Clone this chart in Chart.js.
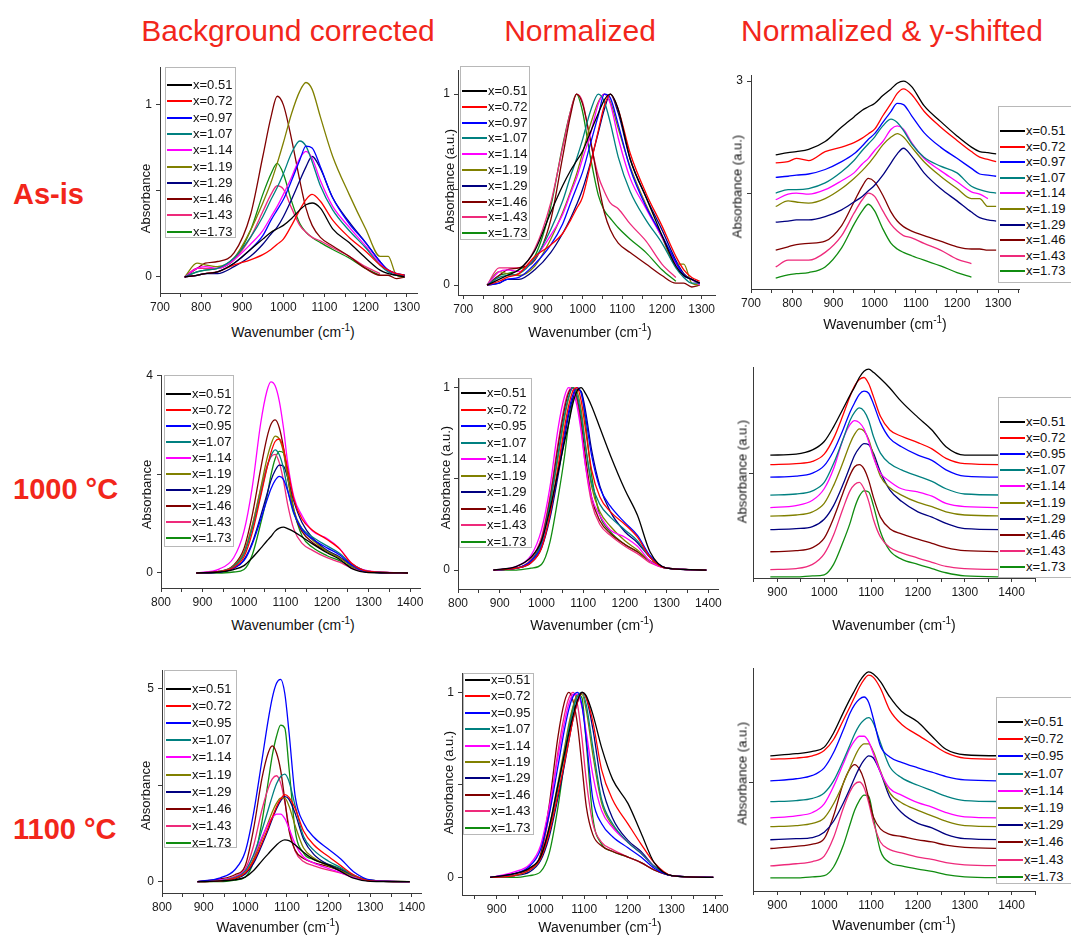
<!DOCTYPE html>
<html><head><meta charset="utf-8">
<script src="https://cdn.jsdelivr.net/npm/chart.js@4.4.1/dist/chart.umd.min.js"></script>
<style>
body{margin:0;background:#fff;}
#page{position:relative;width:1071px;height:940px;overflow:hidden;font-family:"Liberation Sans",Arial,sans-serif;background:#fff;}
.t{position:absolute;color:#f2261b;font-size:30px;line-height:30px;white-space:nowrap;transform:translateX(-50%);}
.r{position:absolute;color:#f2261b;font-size:29px;line-height:29px;font-weight:bold;white-space:nowrap;}
.xt{position:absolute;width:240px;height:16px;text-align:center;font-size:14px;line-height:16px;color:#111;white-space:nowrap;}
.xt sup{font-size:10px;line-height:0;vertical-align:6px;}
.yt{position:absolute;width:200px;height:15px;text-align:center;font-size:13px;line-height:15px;color:#111;transform:rotate(-90deg);white-space:nowrap;}
canvas{position:absolute;}
.lg{position:absolute;background:#fff;border:1px solid #b8b8b8;box-sizing:border-box;}
.lr{position:absolute;font-size:13px;line-height:14px;color:#111;white-space:nowrap;}
.ll{position:absolute;height:2px;width:25px;left:1px;}
</style></head>
<body>
<div id="page">
<div class="t" style="left:288px;top:16px">Background corrected</div>
<div class="t" style="left:580px;top:16px">Normalized</div>
<div class="t" style="left:892px;top:16px">Normalized &amp; y-shifted</div>
<div class="r" style="left:13px;top:180px">As-is</div>
<div class="r" style="left:13px;top:475px">1000 °C</div>
<div class="r" style="left:13px;top:815px">1100 °C</div>
</div>
<script>
// ---------- categories / labels ----------
const colors = ['#000000','#ff0000','#0000ff','#008080','#ff00ff','#808000','#000080','#800000','#ee2a7b','#108c10'];
const labelsAsIs = ['x=0.51','x=0.72','x=0.97','x=1.07','x=1.14','x=1.19','x=1.29','x=1.46','x=1.43','x=1.73'];
const labels1000 = ['x=0.51','x=0.72','x=0.95','x=1.07','x=1.14','x=1.19','x=1.29','x=1.46','x=1.43','x=1.73'];
const labels1100 = ['x=0.51','x=0.72','x=0.95','x=1.07','x=1.14','x=1.19','x=1.29','x=1.46','x=1.43','x=1.73'];

// ---------- wavenumber grids (cm-1) ----------
const wnAsIs = [760,790,810,840,880,920,950,970,985,1000,1020,1040,1055,1070,1090,1120,1160,1200,1235,1255,1275,1295];
const wnAnnealed = [885,940,975,1000,1020,1040,1055,1065,1075,1085,1095,1105,1120,1140,1165,1200,1230,1260,1300,1395];

// ---------- tick labels ----------
const xMajorAsIs = [700,800,900,1000,1100,1200,1300];
const xMinorAsIs = [750,850,950,1050,1150,1250,1350];
const xMajorAnn = [800,900,1000,1100,1200,1300,1400];
const xMinorAnn = [850,950,1050,1150,1250,1350,1450];

// ---------- As-is ----------
const asIsBackground = [
 [0,0.01,0.02,0.03,0.08,0.16,0.22,0.26,0.28,0.30,0.34,0.39,0.42,0.43,0.40,0.28,0.20,0.11,0.04,0.02,0.01,0],
 [0,0.01,0.02,0.03,0.07,0.10,0.13,0.16,0.19,0.22,0.30,0.39,0.45,0.48,0.44,0.33,0.23,0.15,0.07,0.04,0.02,0.01],
 [0,0.01,0.02,0.03,0.08,0.16,0.24,0.33,0.39,0.45,0.56,0.68,0.76,0.75,0.64,0.46,0.31,0.20,0.09,0.04,0.02,0.01],
 [0,0.03,0.04,0.05,0.11,0.23,0.35,0.45,0.52,0.60,0.72,0.79,0.76,0.67,0.53,0.39,0.27,0.17,0.07,0.03,0.01,0.01],
 [0,0.05,0.06,0.05,0.10,0.19,0.27,0.35,0.41,0.48,0.58,0.69,0.73,0.69,0.56,0.41,0.29,0.18,0.08,0.04,0.02,0],
 [0,0.08,0.07,0.06,0.11,0.27,0.43,0.55,0.66,0.78,0.95,1.08,1.13,1.09,0.93,0.70,0.48,0.28,0.12,0.12,0.01,0],
 [0,0.01,0.02,0.02,0.06,0.12,0.19,0.25,0.29,0.35,0.45,0.56,0.64,0.70,0.63,0.46,0.32,0.20,0.09,0.04,0.02,0.01],
 [0,0.05,0.08,0.09,0.14,0.36,0.70,0.93,1.05,1.00,0.80,0.56,0.40,0.30,0.23,0.18,0.12,0.05,0.01,0.01,-0.01,0],
 [0,0.05,0.05,0.05,0.10,0.23,0.38,0.48,0.53,0.51,0.40,0.30,0.26,0.23,0.21,0.17,0.12,0.06,0.02,null,null,null],
 [0,0.03,0.04,0.05,0.10,0.27,0.48,0.60,0.66,0.60,0.44,0.31,0.26,0.23,0.20,0.16,0.11,0.05,0.01,null,null,null]
];
const asIsNormalized = [
 [0,0.03,0.05,0.08,0.18,0.38,0.52,0.60,0.65,0.70,0.80,0.90,0.97,1.00,0.92,0.66,0.46,0.26,0.10,0.05,0.03,0.01],
 [0,0.02,0.04,0.06,0.15,0.21,0.27,0.34,0.40,0.46,0.63,0.81,0.94,1.00,0.92,0.69,0.48,0.31,0.15,0.08,0.04,0.02],
 [0,0.01,0.03,0.04,0.11,0.21,0.32,0.43,0.51,0.59,0.74,0.89,1.00,0.98,0.84,0.61,0.41,0.26,0.12,0.05,0.03,0.01],
 [0,0.04,0.05,0.06,0.14,0.29,0.44,0.57,0.66,0.76,0.91,1.00,0.96,0.85,0.67,0.49,0.34,0.22,0.09,0.04,0.01,0.01],
 [0,0.07,0.08,0.07,0.14,0.26,0.37,0.48,0.56,0.66,0.79,0.95,1.00,0.95,0.77,0.56,0.40,0.25,0.11,0.05,0.03,0],
 [0,0.07,0.06,0.05,0.10,0.24,0.38,0.49,0.58,0.69,0.84,0.96,1.00,0.96,0.82,0.62,0.42,0.25,0.11,0.11,0.01,0],
 [0,0.01,0.03,0.03,0.08,0.17,0.27,0.35,0.42,0.50,0.64,0.80,0.92,1.00,0.90,0.66,0.46,0.29,0.13,0.06,0.03,0.01],
 [0,0.05,0.08,0.09,0.13,0.34,0.67,0.89,1.00,0.95,0.76,0.53,0.38,0.29,0.22,0.17,0.11,0.05,0.01,0.01,-0.01,0],
 [0,0.09,0.09,0.09,0.19,0.43,0.72,0.91,1.00,0.96,0.75,0.57,0.49,0.43,0.40,0.32,0.23,0.11,0.04,null,null,null],
 [0,0.05,0.06,0.08,0.15,0.41,0.73,0.91,1.00,0.91,0.67,0.47,0.39,0.35,0.30,0.24,0.17,0.08,0.02,null,null,null]
];
const asIsShifted = [
 [2.34,2.36,2.37,2.39,2.46,2.59,2.68,2.74,2.77,2.80,2.87,2.93,2.98,3.00,2.95,2.78,2.64,2.51,2.41,2.37,2.36,2.35],
 [2.27,2.28,2.31,2.29,2.37,2.41,2.45,2.49,2.53,2.57,2.69,2.80,2.89,2.93,2.88,2.73,2.59,2.47,2.37,2.32,2.30,2.28],
 [2.14,2.15,2.16,2.17,2.21,2.28,2.35,2.42,2.48,2.53,2.63,2.73,2.80,2.79,2.69,2.54,2.41,2.31,2.22,2.17,2.16,2.15],
 [2.00,2.03,2.03,2.04,2.09,2.19,2.29,2.38,2.44,2.50,2.60,2.66,2.63,2.56,2.44,2.32,2.24,2.18,2.06,2.03,2.01,2.00],
 [1.94,1.99,2.00,1.99,2.03,2.11,2.18,2.26,2.31,2.38,2.46,2.57,2.60,2.57,2.45,2.31,2.20,2.10,2.01,1.99,1.95,null],
 [1.88,1.93,1.92,1.91,1.95,2.04,2.13,2.20,2.26,2.33,2.43,2.50,2.53,2.50,2.41,2.28,2.15,2.04,1.95,1.95,1.88,1.88],
 [1.74,1.75,1.76,1.76,1.79,1.85,1.92,1.97,2.02,2.07,2.16,2.27,2.35,2.40,2.33,2.18,2.04,1.93,1.83,1.78,1.76,1.75],
 [1.49,1.52,1.54,1.55,1.57,1.71,1.92,2.06,2.13,2.10,1.98,1.83,1.75,1.70,1.66,1.62,1.57,1.52,1.50,1.50,1.49,1.49],
 [1.34,1.40,1.40,1.40,1.47,1.62,1.82,1.94,2.00,1.97,1.84,1.72,1.66,1.62,1.60,1.55,1.49,1.41,1.37,null,null,null],
 [1.24,1.27,1.28,1.29,1.34,1.51,1.72,1.84,1.90,1.84,1.68,1.55,1.50,1.47,1.44,1.40,1.35,1.29,1.25,null,null,null]
];

// ---------- 1000 °C ----------
const bg1000 = [
 [0,0.02,0.07,0.15,0.31,0.50,0.65,0.74,0.85,0.91,0.93,0.90,0.84,0.73,0.59,0.41,0.28,0.09,0.01,0],
 [0,0.03,0.11,0.33,0.82,1.55,2.12,2.45,2.67,2.72,2.53,2.12,1.50,1.09,0.87,0.68,0.49,0.19,0.03,0],
 [0,0.02,0.10,0.25,0.59,1.08,1.47,1.71,1.88,1.96,1.90,1.67,1.23,0.88,0.69,0.51,0.37,0.16,0.02,0],
 [0,0.03,0.13,0.38,0.90,1.60,2.13,2.38,2.50,2.40,2.13,1.70,1.20,0.90,0.73,0.55,0.40,0.18,0.03,0],
 [0,0.08,0.31,0.85,1.75,3.03,3.69,3.88,3.80,3.49,2.95,2.25,1.55,1.16,0.85,0.70,0.50,0.19,0.04,0],
 [0,0.03,0.14,0.42,0.97,1.72,2.31,2.61,2.78,2.72,2.45,1.95,1.28,0.89,0.67,0.44,0.31,0.14,0.03,0],
 [0,0.02,0.09,0.27,0.62,1.15,1.59,1.88,2.08,2.19,2.17,1.94,1.46,1.02,0.71,0.46,0.33,0.15,0.02,0],
 [0,0.03,0.16,0.50,1.18,2.11,2.74,3.02,3.11,2.95,2.55,1.96,1.24,0.84,0.62,0.44,0.31,0.16,0.03,0],
 [0,0.02,0.14,0.43,0.96,1.69,2.17,2.36,2.41,2.24,1.88,1.40,0.89,0.60,0.46,0.31,0.22,0.10,0.02,0],
 [0,0,0.02,0.07,0.37,1.00,1.54,1.99,2.32,2.47,2.44,2.04,1.29,0.75,0.52,0.35,0.25,0.12,0.02,0]
];
const norm1000 = [
 [0,0.02,0.07,0.16,0.33,0.54,0.70,0.80,0.91,0.98,1.00,0.97,0.90,0.78,0.63,0.44,0.30,0.10,0.01,0],
 [0,0.01,0.04,0.12,0.30,0.57,0.78,0.90,0.98,1.00,0.93,0.78,0.55,0.40,0.32,0.25,0.18,0.07,0.01,0],
 [0,0.01,0.05,0.13,0.30,0.55,0.75,0.87,0.96,1.00,0.97,0.85,0.63,0.45,0.35,0.26,0.19,0.08,0.01,0],
 [0,0.01,0.05,0.15,0.36,0.64,0.85,0.95,1.00,0.96,0.85,0.68,0.48,0.36,0.29,0.22,0.16,0.07,0.01,0],
 [0,0.02,0.08,0.22,0.45,0.78,0.95,1.00,0.98,0.90,0.76,0.58,0.40,0.30,0.22,0.18,0.13,0.05,0.01,0],
 [0,0.01,0.05,0.15,0.35,0.62,0.83,0.94,1.00,0.98,0.88,0.70,0.46,0.32,0.24,0.16,0.11,0.05,0.01,0],
 [0,0.01,0.04,0.12,0.28,0.52,0.72,0.85,0.94,0.99,0.98,0.88,0.66,0.46,0.32,0.21,0.15,0.07,0.01,0],
 [0,0.01,0.05,0.16,0.38,0.68,0.88,0.97,1.00,0.95,0.82,0.63,0.40,0.27,0.20,0.14,0.10,0.05,0.01,0],
 [0,0.01,0.06,0.18,0.40,0.70,0.90,0.98,1.00,0.93,0.78,0.58,0.37,0.25,0.19,0.13,0.09,0.04,0.01,0],
 [0,0,0.01,0.03,0.15,0.40,0.62,0.80,0.93,0.99,0.98,0.82,0.52,0.30,0.21,0.14,0.10,0.05,0.01,0]
];
const shift1000 = [
 [1.17,1.18,1.22,1.30,1.44,1.61,1.74,1.82,1.91,1.97,1.99,1.96,1.90,1.81,1.68,1.53,1.41,1.25,1.17,1.17],
 [1.08,1.09,1.11,1.18,1.33,1.55,1.73,1.83,1.89,1.91,1.85,1.73,1.54,1.41,1.35,1.29,1.23,1.14,1.09,1.08],
 [0.96,0.97,1.00,1.07,1.21,1.41,1.58,1.67,1.75,1.78,1.76,1.66,1.48,1.33,1.25,1.17,1.12,1.03,0.97,0.96],
 [0.79,0.80,0.83,0.91,1.09,1.32,1.50,1.58,1.62,1.59,1.50,1.35,1.19,1.09,1.03,0.97,0.92,0.85,0.80,0.79],
 [0.67,0.69,0.74,0.85,1.04,1.32,1.46,1.50,1.48,1.42,1.30,1.15,1.00,0.92,0.85,0.82,0.78,0.71,0.68,0.67],
 [0.59,0.60,0.63,0.71,0.88,1.10,1.28,1.37,1.42,1.40,1.32,1.17,0.97,0.86,0.79,0.72,0.68,0.63,0.60,0.59],
 [0.46,0.47,0.49,0.56,0.69,0.89,1.06,1.17,1.24,1.28,1.27,1.19,1.01,0.84,0.73,0.63,0.58,0.52,0.47,0.46],
 [0.25,0.26,0.29,0.38,0.57,0.81,0.98,1.06,1.08,1.04,0.93,0.77,0.58,0.47,0.42,0.37,0.33,0.29,0.26,0.25],
 [0.08,0.09,0.13,0.23,0.41,0.66,0.83,0.89,0.91,0.85,0.73,0.56,0.39,0.29,0.24,0.19,0.15,0.11,0.09,0.08],
 [0.01,0.01,0.02,0.03,0.13,0.34,0.52,0.67,0.78,0.83,0.82,0.69,0.44,0.26,0.18,0.13,0.09,0.05,0.02,0.01]
];

// ---------- 1100 °C ----------
const bg1100 = [
 [0,0.02,0.05,0.12,0.29,0.54,0.72,0.84,0.95,1.04,1.08,1.06,0.95,0.76,0.57,0.43,0.26,0.09,0.01,0],
 [0,0.02,0.09,0.23,0.54,1.01,1.40,1.67,1.94,2.14,2.25,2.18,1.89,1.31,0.95,0.65,0.41,0.18,0.02,0],
 [0,0.10,0.31,0.78,1.78,3.14,4.18,4.76,5.13,5.23,4.86,3.87,2.20,1.52,1.15,0.84,0.58,0.26,0.05,0],
 [0,0.03,0.11,0.28,0.70,1.33,1.86,2.22,2.53,2.72,2.78,2.59,1.95,1.17,0.81,0.53,0.36,0.17,0.03,0],
 [0,0.05,0.12,0.30,0.67,1.15,1.49,1.66,1.75,1.75,1.63,1.38,0.97,0.64,0.48,0.34,0.23,0.11,0.02,0],
 [0,0.02,0.09,0.24,0.59,1.11,1.53,1.81,2.03,2.16,2.16,1.96,1.44,0.87,0.61,0.41,0.28,0.13,0.02,0],
 [0,0.02,0.07,0.20,0.48,0.95,1.34,1.63,1.89,2.09,2.20,2.13,1.76,1.10,0.70,0.44,0.31,0.13,0.02,0],
 [0,0.07,0.18,0.42,1.37,2.67,3.33,3.51,3.33,2.88,2.11,1.33,0.81,0.60,0.49,0.39,0.28,0.14,0.04,0],
 [0,0.05,0.14,0.33,0.93,1.86,2.41,2.66,2.74,2.55,2.06,1.42,0.79,0.52,0.41,0.30,0.22,0.11,0.03,0],
 [0,0,0.04,0.12,0.53,1.55,2.58,3.27,3.76,4.05,3.97,2.94,1.31,0.74,0.57,0.45,0.33,0.16,0.04,0]
];
const norm1100 = [
 [0,0.02,0.05,0.11,0.27,0.50,0.67,0.78,0.88,0.96,1.00,0.98,0.88,0.70,0.53,0.40,0.24,0.08,0.01,0],
 [0,0.01,0.04,0.10,0.24,0.45,0.62,0.74,0.86,0.95,1.00,0.97,0.84,0.58,0.42,0.29,0.18,0.08,0.01,0],
 [0,0.02,0.06,0.15,0.34,0.60,0.80,0.91,0.98,1.00,0.93,0.74,0.42,0.29,0.22,0.16,0.11,0.05,0.01,0],
 [0,0.01,0.04,0.10,0.25,0.48,0.67,0.80,0.91,0.98,1.00,0.93,0.70,0.42,0.29,0.19,0.13,0.06,0.01,0],
 [0,0.03,0.07,0.17,0.38,0.65,0.84,0.94,0.99,0.99,0.92,0.78,0.55,0.36,0.27,0.19,0.13,0.06,0.01,0],
 [0,0.01,0.04,0.11,0.27,0.51,0.70,0.83,0.93,0.99,0.99,0.90,0.66,0.40,0.28,0.19,0.13,0.06,0.01,0],
 [0,0.01,0.03,0.09,0.22,0.43,0.61,0.74,0.86,0.95,1.00,0.97,0.80,0.50,0.32,0.20,0.14,0.06,0.01,0],
 [0,0.02,0.05,0.12,0.39,0.76,0.95,1.00,0.95,0.82,0.60,0.38,0.23,0.17,0.14,0.11,0.08,0.04,0.01,0],
 [0,0.02,0.05,0.12,0.34,0.68,0.88,0.97,1.00,0.93,0.75,0.52,0.29,0.19,0.15,0.11,0.08,0.04,0.01,0],
 [0,0,0.01,0.03,0.13,0.38,0.63,0.80,0.92,0.99,0.97,0.72,0.32,0.18,0.14,0.11,0.08,0.04,0.01,0]
];
const shift1100 = [
 [1.24,1.26,1.28,1.32,1.45,1.63,1.76,1.84,1.92,1.98,2.01,1.99,1.92,1.78,1.65,1.55,1.42,1.30,1.25,1.24],
 [1.21,1.22,1.24,1.29,1.39,1.56,1.69,1.78,1.87,1.94,1.98,1.96,1.86,1.66,1.53,1.43,1.35,1.27,1.22,1.21],
 [1.01,1.03,1.06,1.13,1.27,1.47,1.63,1.71,1.76,1.78,1.73,1.58,1.33,1.23,1.18,1.13,1.09,1.05,1.02,1.01],
 [0.82,0.83,0.85,0.90,1.01,1.19,1.34,1.44,1.52,1.57,1.59,1.54,1.36,1.14,1.04,0.97,0.92,0.87,0.83,0.82],
 [0.67,0.69,0.72,0.80,0.96,1.16,1.31,1.38,1.42,1.42,1.37,1.26,1.09,0.94,0.88,0.81,0.77,0.72,0.68,0.67],
 [0.59,0.60,0.62,0.67,0.80,0.98,1.13,1.23,1.31,1.35,1.35,1.28,1.10,0.90,0.81,0.74,0.69,0.64,0.60,0.59],
 [0.47,0.48,0.49,0.54,0.64,0.80,0.94,1.04,1.13,1.20,1.24,1.22,1.09,0.86,0.72,0.62,0.58,0.52,0.48,0.47],
 [0.39,0.41,0.43,0.48,0.69,0.98,1.12,1.16,1.12,1.02,0.85,0.68,0.57,0.52,0.50,0.47,0.45,0.42,0.40,0.39],
 [0.23,0.25,0.27,0.32,0.49,0.75,0.91,0.98,1.00,0.95,0.81,0.63,0.45,0.38,0.35,0.31,0.29,0.26,0.24,0.23],
 [0.12,0.12,0.13,0.14,0.22,0.41,0.61,0.74,0.83,0.88,0.87,0.67,0.37,0.26,0.23,0.20,0.18,0.15,0.13,0.12]
];

// ---------- layout (positions only) ----------
const xtAsIs = xMajorAsIs.concat(xMinorAsIs), xtAnn = xMajorAnn.concat(xMinorAnn);
const panels = [
 {wn:wnAsIs, s:asIsBackground, lab:labelsAsIs, ax:[160,67,417,293], xr:[700,1325], yr:[-0.093,1.22], xt:xtAsIs, xl:xMajorAsIs, yt:[0,0.5,1], yl:[0,1], lg:[165,67,71,171,85,16.3], xT:[293,332], yT:[145,198,'Absorbance']},
 {wn:wnAsIs, s:asIsNormalized, lab:labelsAsIs, ax:[458,70,715,295], xr:[686.7,1333.5], yr:[-0.052,1.126], xt:xtAsIs, xl:xMajorAsIs, yt:[0,0.5,1], yl:[0,1], lg:[460,66,70,174,91,15.8], xT:[590,332], yT:[449,180,'Absorbance (a.u.)']},
 {wn:wnAsIs, s:asIsShifted, lab:labelsAsIs, ax:[751,75,1019,289], xr:[700,1350.5], yr:[1.143,3.054], xt:xtAsIs, xl:xMajorAsIs, yt:[2,3], yl:[3], lg:[998,106,80,177,131,15.6], xT:[885,324], yT:[737,186,'Absorbance (a.u.)']},
 {wn:wnAnnealed, s:bg1000, lab:labels1000, ax:[161,375,420,588], xr:[800,1424], yr:[-0.305,4.02], xt:xtAnn, xl:xMajorAnn, yt:[0,2,4], yl:[0,4], lg:[164,375,70,172,394,16], xT:[293,625], yT:[146,494,'Absorbance']},
 {wn:wnAnnealed, s:norm1000, lab:labels1000, ax:[458,378,718,589], xr:[800,1423], yr:[-0.104,1.053], xt:xtAnn, xl:xMajorAnn, yt:[0,0.5,1], yl:[0,1], lg:[459,378,73,170,393,16.55], xT:[592,625], yT:[445,477,'Absorbance (a.u.)']},
 {wn:wnAnnealed, s:shift1000, lab:labels1000, ax:[753,367,1035,578], xr:[848,1450], yr:[0,2.01], xt:xtAnn, xl:xMajorAnn, yt:[1], yl:[], lg:[998,397,80,181,422,16.1], xT:[894,625], yT:[742,471,'Absorbance (a.u.)']},
 {wn:wnAnnealed, s:bg1100, lab:labels1100, ax:[162,670,421,893], xr:[800,1422], yr:[-0.292,5.474], xt:xtAnn, xl:xMajorAnn, yt:[0,2.5,5], yl:[0,5], lg:[164,670,73,178,689,17.1], xT:[278,927], yT:[145,795,'Absorbance']},
 {wn:wnAnnealed, s:norm1100, lab:labels1100, ax:[462,673,722,895], xr:[820.7,1415], yr:[-0.095,1.105], xt:xtAnn, xl:xMajorAnn, yt:[0,0.5,1], yl:[0,1], lg:[463,673,71,162,680,16.4], xT:[600,927], yT:[448,782,'Absorbance (a.u.)']},
 {wn:wnAnnealed, s:shift1100, lab:labels1100, ax:[753,668,1035,891], xr:[848,1450], yr:[0,2.046], xt:xtAnn, xl:xMajorAnn, yt:[1], yl:[], lg:[996,697,80,187,722,17.2], xT:[894,925], yT:[742,773,'Absorbance (a.u.)']}
];

Chart.defaults.font.family = "'Liberation Sans', Arial, sans-serif";
const page = document.getElementById('page');
const L = 30, T = 5, R = 16, B = 26;

function makeChart(p){
  const c = document.createElement('canvas');
  const w = p.ax[2]-p.ax[0]+L+R, h = p.ax[3]-p.ax[1]+T+B;
  c.width = w; c.height = h;
  c.style.left = (p.ax[0]-L)+'px'; c.style.top = (p.ax[1]-T)+'px';
  c.style.width = w+'px'; c.style.height = h+'px';
  page.appendChild(c);
  const axisCol = '#3a3a3a';
  new Chart(c, {
    type:'line',
    data:{datasets:p.s.map((ys,i)=>({
      label:p.lab[i],
      data:p.wn.map((x,j)=>({x:x, y:ys[j]})).filter(d=>d.y!==null),
      borderColor:colors[i], backgroundColor:colors[i], borderWidth:1.3,
      pointRadius:0, fill:false, cubicInterpolationMode:'monotone'
    }))},
    options:{
      responsive:false, animation:false, devicePixelRatio:1,
      layout:{padding:{left:0, top:T, right:R, bottom:0}},
      plugins:{legend:{display:false}, tooltip:{enabled:false}},
      scales:{
        x:{type:'linear', min:p.xr[0], max:p.xr[1],
          afterBuildTicks:s=>{ s.ticks = p.xt.filter(v=>v>=p.xr[0]&&v<=p.xr[1]).sort((a,b)=>a-b).map(v=>({value:v})); },
          afterFit:s=>{ s.height = B; s.paddingLeft = 0; s.paddingRight = 0; },
          ticks:{autoSkip:false, maxRotation:0, minRotation:0, padding:3, color:'#1a1a1a', font:{size:12},
            callback:v=>p.xl.includes(v)?String(v):''},
          grid:{drawOnChartArea:false, drawTicks:true, tickLength:4, color:axisCol},
          border:{display:true, color:axisCol, width:1}},
        y:{type:'linear', min:p.yr[0], max:p.yr[1],
          afterBuildTicks:s=>{ s.ticks = p.yt.map(v=>({value:v})); },
          afterFit:s=>{ s.width = L; s.paddingTop = 0; s.paddingBottom = 0; },
          ticks:{autoSkip:false, padding:4, color:'#1a1a1a', font:{size:12},
            callback:v=>p.yl.includes(v)?String(v):''},
          grid:{drawOnChartArea:false, drawTicks:true, tickLength:4, color:axisCol},
          border:{display:true, color:axisCol, width:1}}
      }
    }
  });
}

function makeTexts(p){
  const xt = document.createElement('div');
  xt.className = 'xt';
  xt.style.left = (p.xT[0]-120)+'px'; xt.style.top = (p.xT[1]-8)+'px';
  xt.innerHTML = 'Wavenumber (cm<sup>-1</sup>)';
  page.appendChild(xt);
  const yt = document.createElement('div');
  yt.className = 'yt';
  yt.style.left = (p.yT[0]-100)+'px'; yt.style.top = (p.yT[1]-7.5)+'px';
  yt.textContent = p.yT[2];
  page.appendChild(yt);
}

function makeLegend(p){
  const [l,t,w,h,r0,step] = p.lg;
  const d = document.createElement('div');
  d.className = 'lg';
  d.style.left = l+'px'; d.style.top = t+'px'; d.style.width = w+'px'; d.style.height = h+'px';
  p.lab.forEach((lab,i)=>{
    const y = Math.round(r0 + i*step - t - 1);
    const ln = document.createElement('div');
    ln.className = 'll';
    ln.style.top = (y-1)+'px';
    ln.style.background = colors[i];
    const tx = document.createElement('div');
    tx.className = 'lr';
    tx.style.left = '27px'; tx.style.top = (y-7)+'px';
    tx.textContent = lab;
    d.appendChild(ln); d.appendChild(tx);
  });
  page.appendChild(d);
}

panels.forEach(p=>{ makeChart(p); makeTexts(p); });
panels.forEach(p=>makeLegend(p));
</script>
</body></html>
